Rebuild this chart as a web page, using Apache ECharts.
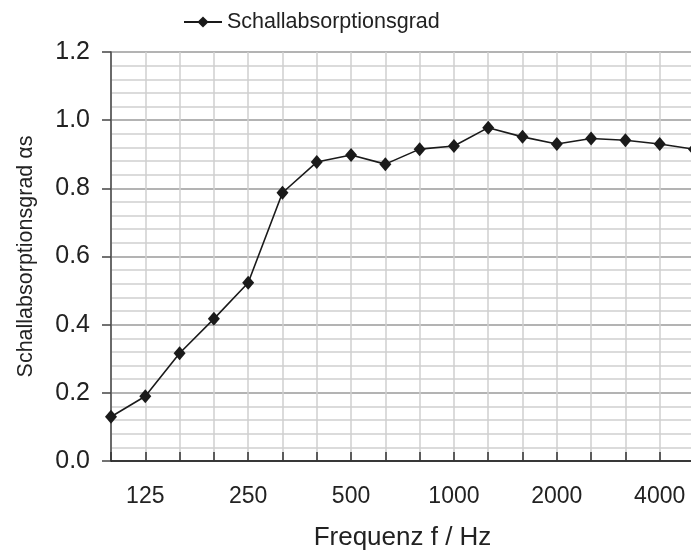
<!DOCTYPE html>
<html><head><meta charset="utf-8">
<script src="https://cdn.jsdelivr.net/npm/echarts@6/dist/echarts.min.js"></script>
<style>html,body{margin:0;padding:0;background:#fff}#c{width:691px;height:551px}</style>
</head><body><div id="c"></div>
<script>
const frequencies = ['100','125','160','200','250','315','400','500','630','800','1000','1250','1600','2000','2500','3150','4000','5000'];
const absorption = [0.13,0.19,0.316,0.417,0.523,0.787,0.877,0.898,0.871,0.915,0.924,0.978,0.951,0.930,0.946,0.941,0.930,0.915];
const seriesName = 'Schallabsorptionsgrad';
const shownLabels = ['125','250','500','1000','2000','4000'];

const chart = echarts.init(document.getElementById('c'), null, {renderer:'canvas'});
const font = 'Liberation Sans, Arial, sans-serif';
chart.setOption({
  animation:false,
  backgroundColor:'#fff',
  legend:{
    left:183, top:11, padding:0, itemWidth:38, itemHeight:14, itemGap:6,
    textStyle:{fontFamily:font, fontSize:21.5, color:'#222', padding:[0,0,0,0]},
    data:[seriesName]
  },
  grid:{left:111, right:-3, top:52, bottom:90, containLabel:false, outerBoundsMode:'none'},
  xAxis:{
    type:'category', data:frequencies, boundaryGap:false,
    name:'Frequenz f / Hz', nameLocation:'middle', nameGap:64,
    nameTextStyle:{fontFamily:font, fontSize:26, color:'#222'},
    axisLine:{lineStyle:{color:'#111', width:1.5}},
    axisTick:{inside:true, length:9, interval:0, lineStyle:{color:'#333', width:1.5}},
    axisLabel:{
      margin:24, fontFamily:font, fontSize:23, color:'#222',
      interval:0,
      formatter:v => shownLabels.includes(v) ? v : ''
    },
    splitLine:{show:true, interval:0, lineStyle:{color:'#cfcfcf', width:1.5}}
  },
  yAxis:{
    type:'value', min:0, max:1.2, interval:0.2,
    name:'Schallabsorptionsgrad \u03b1s', nameLocation:'middle', nameGap:74,
    nameTextStyle:{fontFamily:font, fontSize:21.5, color:'#222'},
    axisLine:{show:true, lineStyle:{color:'#444', width:1.5}},
    axisTick:{show:true, length:9, lineStyle:{color:'#444', width:1.5}},
    axisLabel:{margin:21, fontFamily:font, fontSize:25, color:'#222', formatter:v=>v.toFixed(1)},
    splitLine:{show:true, lineStyle:{color:'#9a9a9a', width:1.5}},
    minorTick:{show:false, splitNumber:5},
    minorSplitLine:{show:true, lineStyle:{color:'#cfcfcf', width:1.5}}
  },
  series:[{
    name:seriesName, type:'line', data:absorption,
    symbol:'diamond', symbolSize:[12,14], clip:false,
    lineStyle:{color:'#1a1a1a', width:1.6},
    itemStyle:{color:'#1a1a1a'}
  }]
});
</script></body></html>
